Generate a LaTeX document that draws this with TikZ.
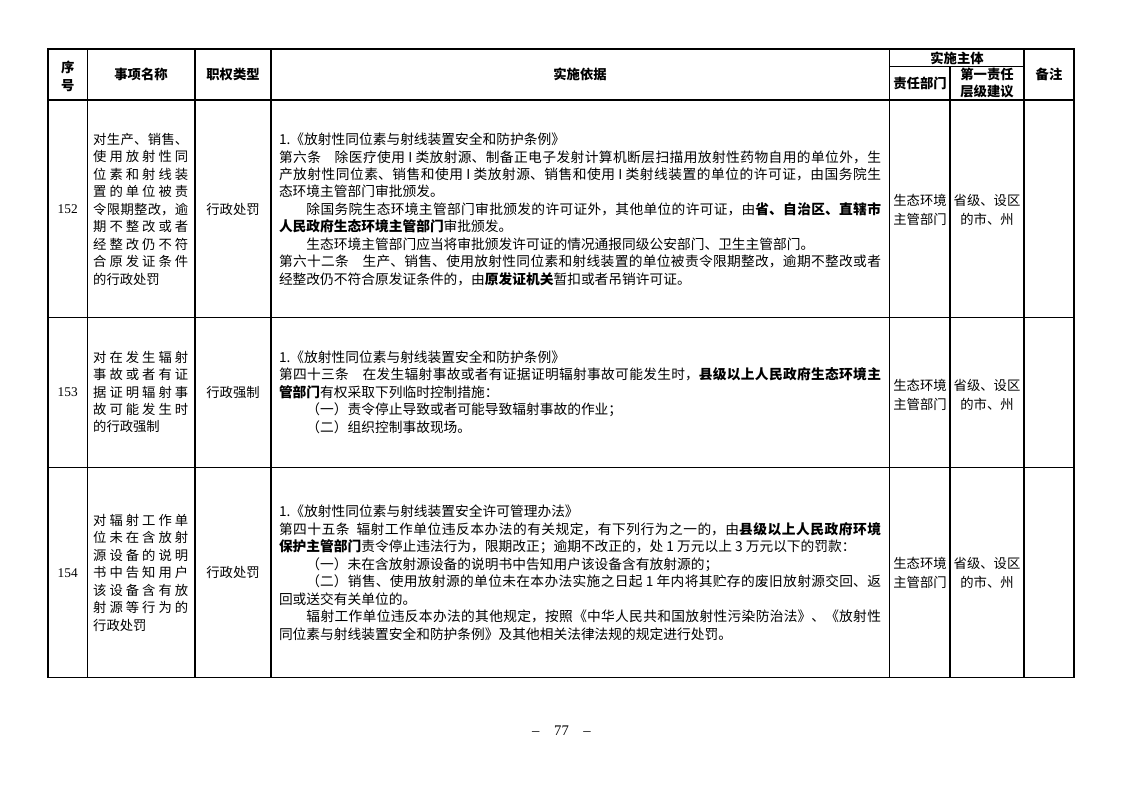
\documentclass[tikz,border=0pt]{standalone}
\usepackage{fontspec}
\setmainfont{Noto Sans CJK SC}
\newfontfamily\numfont{Liberation Serif}
\XeTeXlinebreaklocale "zh"
\XeTeXlinebreakskip=0pt plus 3pt
\setlength\parindent{0pt}
\setlength\parskip{0pt}
\begin{document}
\begin{tikzpicture}[x=0.75035pt,y=-0.75035pt,
  hd/.style={font=\fontsize{10pt}{13pt}\selectfont\bfseries,align=center,inner sep=0pt},
  cell/.style={font=\fontsize{10pt}{14.5pt}\selectfont,align=center,inner sep=0pt},
  itemname/.style={font=\fontsize{10pt}{13.1pt}\selectfont,text width=71.3pt,align=justify,inner sep=0pt},
  basis/.style={font=\fontsize{10.3pt}{13.1pt}\selectfont,text width=451.7pt,align=justify,inner sep=0pt},
  num/.style={font=\numfont\fontsize{10pt}{12pt}\selectfont,inner sep=0pt}]
\useasboundingbox (0,0) rectangle (1122,793);
\draw [line width=.9pt](48,49) rectangle (1074,677.3);
\foreach \x in {87.5,195,271,889.5,1024} \draw [line width=.8pt](\x,49)--(\x,677.3);
\draw [line width=.8pt](950,66.7)--(950,677.3);
\draw [line width=.8pt](889.5,66.7)--(1024,66.7);
\foreach \y in {100,317.5,467.7} \draw [line width=.8pt](48,\y)--(1074,\y);
\node (xh) at (67.7,76.5)[hd]{序\\号};
\node (mc) at (141,74.5)[hd]{事项名称};
\node (lx) at (233,74.5)[hd]{职权类型};
\node (yj) at (580,74.5)[hd]{实施依据};
\node (zt) at (957,58.5)[hd]{实施主体};
\node (zr) at (920,83.5)[hd]{责任部门};
\node (cj) at (987,83)[hd]{第一责任\\层级建议};
\node (bz) at (1049,74.5)[hd]{备注};
\node (n152) at (67.7,209.3)[num]{152};
\node (m152) at (140.7,209.3)[itemname]{对生产、销售、\linebreak
使用放射性同\linebreak
位素和射线装\linebreak
置的单位被责\linebreak
令限期整改，逾\linebreak
期不整改或者\linebreak
经整改仍不符\linebreak
合原发证条件\linebreak
的行政处罚};
\node (t152) at (233,209.3)[cell]{行政处罚};
\node (b152) at (580,209.3)[basis]{1.《放射性同位素与射线装置安全和防护条例》\par
第六条\quad 除医疗使用 I 类放射源、制备正电子发射计算机断层扫描用放射性药物自用的单位外，生\linebreak
产放射性同位素、销售和使用 I 类放射源、销售和使用 I 类射线装置的单位的许可证，由国务院生\linebreak
态环境主管部门审批颁发。\par
\hspace*{2em}除国务院生态环境主管部门审批颁发的许可证外，其他单位的许可证，由\textbf{省、自治区、直辖市}\linebreak
\textbf{人民政府生态环境主管部门}审批颁发。\par
\hspace*{2em}生态环境主管部门应当将审批颁发许可证的情况通报同级公安部门、卫生主管部门。\par
第六十二条\quad 生产、销售、使用放射性同位素和射线装置的单位被责令限期整改，逾期不整改或者\linebreak
经整改仍不符合原发证条件的，由\textbf{原发证机关}暂扣或者吊销许可证。};
\node (d152) at (920,210)[cell]{生态环境\\主管部门};
\node (l152) at (987,210)[cell]{省级、设区\\的市、州};
\node (n153) at (67.7,392)[num]{153};
\node (m153) at (140.7,392)[itemname]{对在发生辐射\linebreak
事故或者有证\linebreak
据证明辐射事\linebreak
故可能发生时\linebreak
的行政强制};
\node (t153) at (233,392)[cell]{行政强制};
\node (b153) at (580,392)[basis]{1.《放射性同位素与射线装置安全和防护条例》\par
第四十三条\quad 在发生辐射事故或者有证据证明辐射事故可能发生时，\textbf{县级以上人民政府生态环境主}\linebreak
\textbf{管部门}有权采取下列临时控制措施：\par
\hspace*{2em}（一）责令停止导致或者可能导致辐射事故的作业；\par
\hspace*{2em}（二）组织控制事故现场。};
\node (d153) at (920,395)[cell]{生态环境\\主管部门};
\node (l153) at (987,395)[cell]{省级、设区\\的市、州};
\node (n154) at (67.7,572.7)[num]{154};
\node (m154) at (140.7,572.7)[itemname]{对辐射工作单\linebreak
位未在含放射\linebreak
源设备的说明\linebreak
书中告知用户\linebreak
该设备含有放\linebreak
射源等行为的\linebreak
行政处罚};
\node (t154) at (233,572.7)[cell]{行政处罚};
\node (b154) at (580,572.7)[basis]{1.《放射性同位素与射线装置安全许可管理办法》\par
第四十五条\enspace 辐射工作单位违反本办法的有关规定，有下列行为之一的，由\textbf{县级以上人民政府环境}\linebreak
\textbf{保护主管部门}责令停止违法行为，限期改正；逾期不改正的，处 1 万元以上 3 万元以下的罚款：\par
\hspace*{2em}（一）未在含放射源设备的说明书中告知用户该设备含有放射源的；\par
\hspace*{2em}（二）销售、使用放射源的单位未在本办法实施之日起 1 年内将其贮存的废旧放射源交回、返\linebreak
回或送交有关单位的。\par
\hspace*{2em}辐射工作单位违反本办法的其他规定，按照《中华人民共和国放射性污染防治法》、《放射性\linebreak
同位素与射线装置安全和防护条例》及其他相关法律法规的规定进行处罚。};
\node (d154) at (920,573)[cell]{生态环境\\主管部门};
\node (l154) at (987,573)[cell]{省级、设区\\的市、州};
\node (pg) at (561.5,731)[num,font=\numfont\fontsize{11pt}{12pt}\selectfont]{–\quad 77\quad –};
\end{tikzpicture}
\end{document}
